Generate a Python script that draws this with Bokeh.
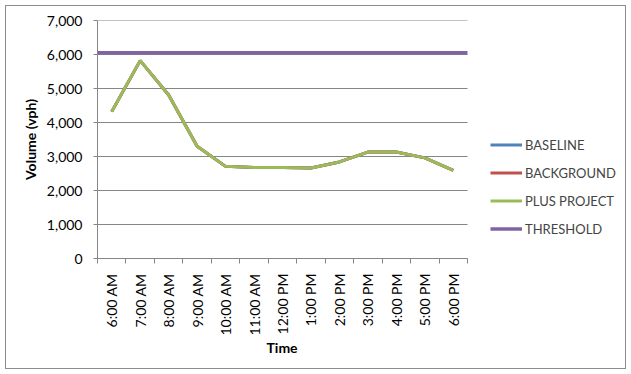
import math
from bokeh.plotting import figure
from bokeh.models import FixedTicker, NumeralTickFormatter, Legend, LegendItem, Range1d
from bokeh.embed import file_html
from bokeh.resources import INLINE

times = ["6:00 AM", "7:00 AM", "8:00 AM", "9:00 AM", "10:00 AM", "11:00 AM", "12:00 PM",
         "1:00 PM", "2:00 PM", "3:00 PM", "4:00 PM", "5:00 PM", "6:00 PM"]
baseline = [4320, 5820, 4810, 3300, 2710, 2680, 2680, 2660, 2840, 3130, 3130, 2960, 2590]
background = [4320, 5820, 4810, 3300, 2710, 2680, 2680, 2660, 2840, 3130, 3130, 2960, 2590]
plus_project = [4320, 5820, 4810, 3300, 2710, 2680, 2680, 2660, 2840, 3130, 3130, 2960, 2590]
threshold = 6050
y_ticks = [0, 1000, 2000, 3000, 4000, 5000, 6000, 7000]

FONT = "Lato"
GRID = "#868686"

n = len(times)
xc = [i + 0.5 for i in range(n)]
x0, x1 = 0, n

W, H = 621, 364
BL, BR, BT, BB = 91, 4, 14, 112
plot_px = 370                      # pixel width of the category area
frame_px = W - BL - BR
x_end = n * frame_px / plot_px     # extra room on the right for the legend

p = figure(width=W, height=H, output_backend="svg", toolbar_location=None,
           x_range=Range1d(x0, x_end), y_range=Range1d(y_ticks[0], y_ticks[-1]),
           min_border_left=BL, min_border_right=BR, min_border_top=BT, min_border_bottom=BB,
           title="Time", title_location="below")
p.styles = {"border": "1px solid #8c8c8c", "margin-left": "5px", "margin-top": "5px"}
p.outline_line_color = None
p.background_fill_color = "white"
p.border_fill_color = "white"

# x-axis title, centred under the category area
p.title.align = "left"
p.title.offset = 169
p.title.standoff = 0
p.title.vertical_align = "top"
p.title.text_line_height = 0.6
p.title.text_font = FONT
p.title.text_font_size = "14px"
p.title.text_font_style = "bold"
p.title.text_color = "black"

# horizontal gridlines limited to the category area
p.segment(x0=[x0] * len(y_ticks), x1=[x1] * len(y_ticks), y0=y_ticks, y1=y_ticks,
          line_color=GRID, line_width=1)

colors = ["#4F81BD", "#C0504D", "#9BBB59", "#8064A2"]
r1 = p.line(xc, baseline, line_color=colors[0], line_width=3)
r2 = p.line(xc, background, line_color=colors[1], line_width=3)
r3 = p.line(xc, plus_project, line_color=colors[2], line_width=3)
r4 = p.line([x0, x1], [threshold, threshold], line_color=colors[3], line_width=3.5)

# x axis
p.xaxis.bounds = (x0, x1)
p.xaxis.ticker = FixedTicker(ticks=xc, minor_ticks=list(range(n + 1)))
p.xaxis.major_label_overrides = {x: t for x, t in zip(xc, times)}
p.xaxis.major_label_orientation = math.pi / 2
p.xaxis.major_tick_line_color = None
p.xaxis.major_tick_out = 0
p.xaxis.major_tick_in = 0
p.xaxis.minor_tick_line_color = GRID
p.xaxis.minor_tick_out = 5
p.xaxis.minor_tick_in = 0
p.xaxis.major_label_standoff = 10
p.xaxis.axis_line_color = GRID

# y axis
p.yaxis.ticker = FixedTicker(ticks=y_ticks)
p.yaxis.formatter = NumeralTickFormatter(format="0,0")
p.yaxis.major_tick_out = 4
p.yaxis.major_tick_in = 0
p.yaxis.major_tick_line_color = GRID
p.yaxis.minor_tick_line_color = None
p.yaxis.major_label_standoff = 11
p.yaxis.axis_line_color = GRID
p.yaxis.axis_label = "Volume (vph)"
p.yaxis.axis_label_standoff = 5

for ax in (p.xaxis, p.yaxis):
    ax.major_label_text_font = FONT
    ax.major_label_text_font_size = "14px"
    ax.major_label_text_color = "black"
    ax.axis_label_text_font = FONT
    ax.axis_label_text_font_size = "14px"
    ax.axis_label_text_font_style = "bold"
    ax.axis_label_text_color = "black"

p.xgrid.grid_line_color = None
p.ygrid.grid_line_color = None

legend = Legend(items=[LegendItem(label="BASELINE", renderers=[r1]),
                       LegendItem(label="BACKGROUND", renderers=[r2]),
                       LegendItem(label="PLUS PROJECT", renderers=[r3]),
                       LegendItem(label="THRESHOLD", renderers=[r4])],
                location=(393, 19), padding=0, margin=0, spacing=7,
                glyph_width=32, glyph_height=21, label_height=21, label_standoff=3,
                label_text_font=FONT, label_text_font_size="13px",
                border_line_color=None, background_fill_alpha=0)
p.add_layout(legend, "center")

open("out.html", "w").write(file_html(p, INLINE))
